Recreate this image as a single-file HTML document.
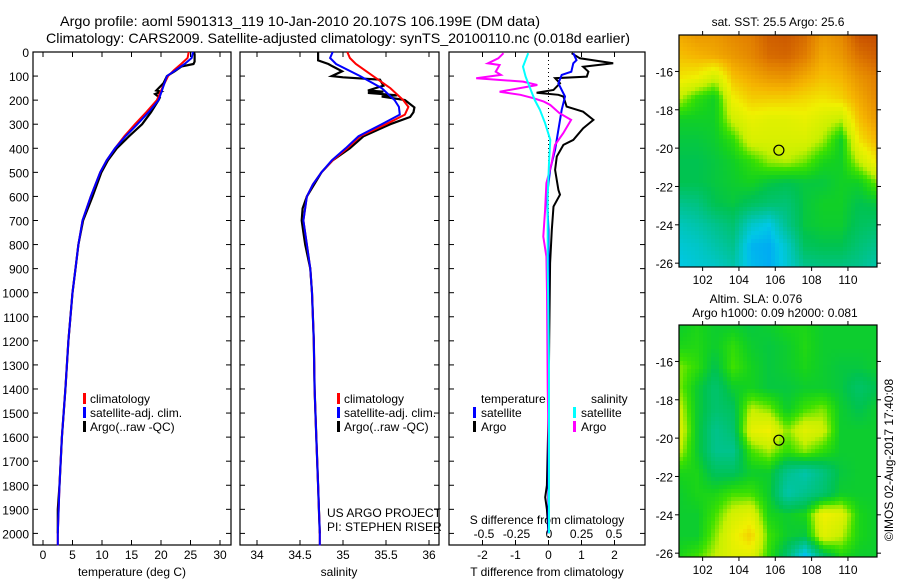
<!DOCTYPE html>
<html><head><meta charset="utf-8">
<style>
html,body{margin:0;padding:0;background:#fff;}
svg{display:block;font-family:"Liberation Sans",sans-serif;}
text{fill:#000;}
</style></head>
<body>
<svg id="fig" width="900" height="580" viewBox="0 0 900 580" xmlns="http://www.w3.org/2000/svg">
<rect x="0" y="0" width="900" height="580" fill="#fff"/>
<text x="60" y="26" font-size="14" textLength="480" lengthAdjust="spacingAndGlyphs">Argo profile: aoml 5901313_119 10-Jan-2010 20.107S 106.199E (DM data)</text>
<text x="46" y="43" font-size="14" textLength="584" lengthAdjust="spacingAndGlyphs">Climatology: CARS2009. Satellite-adjusted climatology: synTS_20100110.nc (0.018d earlier)</text>
<g id="plots"></g>
</svg>
<script>
// ---------- data ----------
const climDepth=[0,25,50,75,100,150,200,250,300,350,400,450,500,600,700,800,900,1000,1200,1400,1600,1800,2000,2050];
const climTemp=[24.7,24.5,23.4,22.2,21.2,20.2,19.3,17.5,15.6,13.8,12.2,10.8,9.7,8.1,6.7,6.0,5.5,5.0,4.3,3.8,3.2,2.8,2.5,2.5];
const satTemp=[25.4,25.2,24.0,22.5,21.0,20.3,19.6,17.9,16.0,14.0,12.2,10.8,9.7,8.1,6.7,6.0,5.5,5.0,4.3,3.8,3.2,2.8,2.5,2.5];
const argoTDepth=[0,10,40,50,60,80,100,130,160,165,175,190,200,250,300,350,400,450,500,600,700,800,900,1000,1200,1400,1600,1800,1900,2000];
const argoTemp=[25.6,25.7,25.7,25.5,23.5,22.3,21.0,20.4,19.2,20.0,19.0,19.8,19.6,18.3,16.8,14.6,12.5,11.0,9.9,8.4,6.8,6.0,5.5,5.0,4.3,3.8,3.2,2.8,2.5,2.5];

const salDepth=[0,25,50,100,150,200,228,260,300,350,400,450,500,550,600,700,800,900,1000,1200,1400,1600,1800,2000,2050];
const climSal=[35.05,35.08,35.15,35.35,35.55,35.7,35.76,35.72,35.5,35.2,35.05,34.88,34.75,34.65,34.58,34.54,34.58,34.62,34.64,34.66,34.67,34.69,34.71,34.73,34.73];
const satSal=[34.88,34.85,34.92,35.2,35.45,35.6,35.65,35.66,35.45,35.18,35.03,34.87,34.75,34.65,34.58,34.54,34.58,34.62,34.64,34.66,34.67,34.69,34.71,34.73,34.73];
const argoSDepth=[0,30,35,50,60,80,100,105,115,140,160,165,170,180,185,200,230,250,270,300,350,400,450,500,600,650,700,750,800,900,1000,1200,1400,1600,1800,1900,2000];
const argoSal=[34.71,34.71,34.71,34.83,34.88,34.99,34.87,35.0,35.43,35.47,35.29,35.47,35.29,35.63,35.45,35.72,35.83,35.82,35.78,35.55,35.24,35.08,34.88,34.75,34.58,34.53,34.52,34.54,34.56,34.62,34.64,34.66,34.67,34.69,34.71,34.72,34.73];

const dTArgoDepth=[5,26,47,61,82,102,109,130,158,169,178,185,227,248,282,317,365,386,434,490,573,593,642,739,877,1200,1500,1800,1850,1900,2000];
const dTArgo=[0.70,0.95,1.96,1.05,1.21,1.16,0.2,0.35,0.15,-0.36,0.3,0.45,0.55,1.05,1.36,1.05,0.75,0.45,0.25,0.2,0.3,0.35,0.15,0.1,0.05,0.02,0.0,-0.05,-0.1,-0.05,0.0];
const dTSatDepth=[5,34,47,82,95,130,158,185,240,323,406,490,600,739,877,1200,1600,2000];
const dTSat=[0.75,0.85,0.75,0.69,0.4,0.3,0.4,0.5,0.4,0.3,0.2,0.05,-0.05,0,0,0,0,0];
const dSArgoDepth=[5,26,47,54,82,95,109,123,137,165,178,192,206,220,254,282,337,386,462,545,656,767,850,1000,1400,1700,2000];
const dSArgo=[-0.35,-0.39,-0.47,-0.38,-0.41,-0.37,-0.56,-0.2,-0.09,-0.38,-0.22,-0.12,-0.04,0.01,0.08,0.17,0.11,0.046,0.02,-0.02,-0.03,-0.044,-0.02,-0.015,-0.01,0,0];
const dSSatDepth=[5,61,102,158,199,240,296,365,462,600,877,1300,2000];
const dSSat=[-0.16,-0.2,-0.18,-0.14,-0.11,-0.07,-0.03,0.01,0,-0.01,-0.01,0,0];

const depthTicks=[0,100,200,300,400,500,600,700,800,900,1000,1100,1200,1300,1400,1500,1600,1700,1800,1900,2000];
const tempTicks=[0,5,10,15,20,25,30];
const salTicks=[34,34.5,35,35.5,36];
const salTickLabels=["34","34.5","35","35.5","36"];
const tdTicks=[-2,-1,0,1,2];
const sdTicks=[-0.5,-0.25,0,0.25,0.5];
const sdTickLabels=["-0.5","-0.25","0","0.25","0.5"];
const lonTicks=[102,104,106,108,110];
const latTicks=[-16,-18,-20,-22,-24,-26];

const sstGrid=[
[0.82,0.85,0.85,0.88,0.9,0.95,0.96,0.93,0.85,0.88,0.97,0.98],
[0.78,0.8,0.82,0.85,0.88,0.93,0.94,0.9,0.82,0.85,0.92,0.95],
[0.72,0.7,0.62,0.78,0.82,0.85,0.86,0.82,0.78,0.8,0.86,0.9],
[0.6,0.5,0.45,0.7,0.76,0.76,0.76,0.74,0.72,0.75,0.82,0.88],
[0.45,0.45,0.45,0.62,0.68,0.66,0.66,0.68,0.64,0.6,0.78,0.85],
[0.42,0.42,0.44,0.5,0.64,0.64,0.64,0.64,0.58,0.45,0.72,0.8],
[0.4,0.4,0.42,0.45,0.5,0.57,0.59,0.55,0.47,0.45,0.6,0.72],
[0.4,0.4,0.42,0.44,0.46,0.42,0.4,0.42,0.42,0.45,0.45,0.55],
[0.3,0.32,0.4,0.42,0.38,0.35,0.34,0.42,0.45,0.45,0.4,0.42],
[0.22,0.25,0.3,0.35,0.2,0.15,0.3,0.42,0.44,0.44,0.38,0.36],
[0.18,0.2,0.25,0.3,0.1,0.08,0.2,0.38,0.4,0.4,0.34,0.3],
[0.15,0.18,0.2,0.25,0.12,0.08,0.18,0.3,0.32,0.32,0.3,0.25]];
const slaGrid=[
[0.44,0.47,0.44,0.44,0.42,0.44,0.47,0.47,0.44,0.44,0.44,0.44],
[0.47,0.48,0.44,0.5,0.44,0.42,0.44,0.48,0.44,0.44,0.44,0.44],
[0.56,0.5,0.4,0.52,0.46,0.42,0.44,0.47,0.44,0.42,0.42,0.44],
[0.56,0.44,0.35,0.44,0.46,0.42,0.42,0.44,0.44,0.42,0.36,0.4],
[0.62,0.44,0.35,0.38,0.6,0.56,0.44,0.52,0.56,0.44,0.4,0.44],
[0.66,0.44,0.3,0.35,0.67,0.7,0.56,0.66,0.62,0.44,0.44,0.44],
[0.6,0.44,0.3,0.3,0.52,0.58,0.5,0.56,0.5,0.44,0.44,0.44],
[0.47,0.47,0.38,0.38,0.44,0.44,0.3,0.25,0.32,0.42,0.44,0.44],
[0.44,0.47,0.47,0.52,0.52,0.44,0.25,0.3,0.35,0.44,0.44,0.44],
[0.44,0.44,0.52,0.63,0.67,0.47,0.44,0.47,0.7,0.66,0.47,0.44],
[0.44,0.44,0.56,0.68,0.76,0.52,0.44,0.42,0.66,0.6,0.47,0.44],
[0.47,0.52,0.6,0.66,0.66,0.5,0.35,0.1,0.35,0.47,0.44,0.44]];
const argoLon=106.199, argoLat=-20.107;

// ---------- helpers ----------
const NS="http://www.w3.org/2000/svg";
const root=document.getElementById('plots');
function mk(tag,attrs,parent){const e=document.createElementNS(NS,tag);for(const k in attrs)e.setAttribute(k,attrs[k]);(parent||root).appendChild(e);return e;}
function txt(s,x,y,anchor,size,parent){const t=mk('text',{x:x,y:y,'text-anchor':anchor||'start','font-size':size||12},parent);t.textContent=s;return t;}

const top0=52, bot=545;
const yD=d=>top0+d*0.2407;
const xT=t=>43+t*5.9;
const xS=s=>257+(s-34)*86;
const xdT=v=>548.5+v*33;
const xdS=v=>549+v*130;

function panel(x0,x1,name){
  const g=mk('g',{});
  
  
  const r=mk('rect',{x:x0,y:top0,width:x1-x0,height:bot-top0,fill:'none',stroke:'#000','stroke-width':1.2},g);
  
  
  return g;
}
function line(g,xs,ds,fx,color,name,w){
  const p=xs.map((v,i)=>fx(v).toFixed(1)+','+yD(ds[i]).toFixed(1)).join(' ');
  const l=mk('polyline',{points:p,fill:'none',stroke:color,'stroke-width':w||2,'stroke-linejoin':'miter'},g);
  
  
}
function xticks(g,ticks,labels,fx,ly,name,tickTop,tickBot){
  ticks.forEach((t,i)=>{
    const x=fx(t);
    if(tickBot) mk('line',{x1:x,y1:bot,x2:x,y2:bot-5,stroke:'#000'},g);
    if(tickTop) mk('line',{x1:x,y1:top0,x2:x,y2:top0+5,stroke:'#000'},g);
    if(labels){const tl=txt(labels[i],x,ly,'middle',12,g);
      
      }
  });
}
function legendMark(g,x,y,color){mk('rect',{x:x,y:y-10,width:3,height:11,fill:color},g);}

// ---------- panel 1: temperature ----------
const p1=panel(33,231,'temperature-panel');
depthTicks.forEach(d=>{
  mk('line',{x1:33,y1:yD(d),x2:38,y2:yD(d),stroke:'#000'},p1);
  mk('line',{x1:231,y1:yD(d),x2:226,y2:yD(d),stroke:'#000'},p1);
  const tl=txt(String(d),29,yD(d)+5,'end',12,p1);
  
  
});
xticks(p1,tempTicks,tempTicks.map(String),xT,559,'temperature',true,true);
const xl1=txt('temperature (deg C)',132,576,'middle',12,p1);


line(p1,argoTemp,argoTDepth,xT,'#000','argo-temperature-line',2.2);
line(p1,climTemp,climDepth,xT,'#f00','climatology-temperature-line',2);
line(p1,satTemp,climDepth,xT,'#00f','satellite-temperature-line',2);
[['climatology','#f00'],['satellite-adj. clim.','#00f'],['Argo(..raw -QC)','#000']].forEach((e,i)=>{
  const y=403+i*14; legendMark(p1,83,y,e[1]);
  const t=txt(e[0],90,y,'start',12,p1);
  
  
});

// ---------- panel 2: salinity ----------
const p2=panel(240,439,'salinity-panel');
depthTicks.forEach(d=>{
  mk('line',{x1:240,y1:yD(d),x2:245,y2:yD(d),stroke:'#000'},p2);
  mk('line',{x1:439,y1:yD(d),x2:434,y2:yD(d),stroke:'#000'},p2);
});
xticks(p2,salTicks,salTickLabels,xS,559,'salinity',true,true);
const xl2=txt('salinity',339,576,'middle',12,p2);


line(p2,argoSal,argoSDepth,xS,'#000','argo-salinity-line',2.2);
line(p2,climSal,salDepth,xS,'#f00','climatology-salinity-line',2);
line(p2,satSal,salDepth,xS,'#00f','satellite-salinity-line',2);
[['climatology','#f00'],['satellite-adj. clim.','#00f'],['Argo(..raw -QC)','#000']].forEach((e,i)=>{
  const y=403+i*14; legendMark(p2,337,y,e[1]);
  const t=txt(e[0],344,y,'start',12,p2);
  
  
});
const c1=txt('US ARGO PROJECT',327,517,'start',12,p2);


const c2=txt('PI: STEPHEN RISER',327,531,'start',12,p2);



// ---------- panel 3: differences ----------
const p3=panel(449,645,'difference-panel');
depthTicks.forEach(d=>{
  mk('line',{x1:449,y1:yD(d),x2:454,y2:yD(d),stroke:'#000'},p3);
  mk('line',{x1:645,y1:yD(d),x2:640,y2:yD(d),stroke:'#000'},p3);
});
xticks(p3,tdTicks,tdTicks.map(String),xdT,559,'t-difference',true,true);
xticks(p3,sdTicks,sdTickLabels,xdS,538,'s-difference',false,false);
mk('line',{x1:xdT(0),y1:top0,x2:xdT(0),y2:bot,stroke:'#000','stroke-dasharray':'1,3'},p3);
const xl3=txt('T difference from climatology',547,576,'middle',12,p3);


const xl3b=txt('S difference from climatology',547,524,'middle',12,p3);


line(p3,dTArgo,dTArgoDepth,xdT,'#000','argo-t-difference-line',2);
line(p3,dTSat,dTSatDepth,xdT,'#00f','satellite-t-difference-line',2);
line(p3,dSArgo,dSArgoDepth,xdS,'#f0f','argo-s-difference-line',2);
line(p3,dSSat,dSSatDepth,xdS,'#0ff','satellite-s-difference-line',2);
const lt=txt('temperature',481,403,'start',12,p3);


const ls=txt('salinity',591,403,'start',12,p3);


[['satellite','#00f',473],['Argo','#000',473],['satellite','#0ff',573],['Argo','#f0f',573]].forEach((e,i)=>{
  const y=417+(i%2)*14; legendMark(p3,e[2],y,e[1]);
  const t=txt(e[0],e[2]+8,y,'start',12,p3);
  
  
});

// ---------- maps ----------
const cmapStops=[[0,[0,140,255]],[0.15,[0,200,230]],[0.3,[0,195,140]],[0.4,[0,195,80]],[0.46,[20,210,30]],[0.52,[60,225,0]],[0.6,[200,240,0]],[0.7,[240,240,0]],[0.8,[245,180,0]],[0.9,[225,125,0]],[1,[190,65,0]]];
function cmap(v){
  v=Math.max(0,Math.min(1,v));
  for(let i=1;i<cmapStops.length;i++){
    if(v<=cmapStops[i][0]){const a=cmapStops[i-1],b=cmapStops[i];const f=(v-a[0])/(b[0]-a[0]);
      const c=a[1].map((q,k)=>Math.round(q+(b[1][k]-q)*f));return 'rgb('+c.join(',')+')';}
  }
  return 'rgb(190,65,0)';
}
function drawMap(grid,x0,y0,name){
  const W=198,H=232,lon0=100.7,lon1=111.6,lat0=-14.1,lat1=-26.2;
  const fx=lon=>x0+(lon-lon0)/(lon1-lon0)*W;
  const fy=lat=>y0+(lat-lat0)/(lat1-lat0)*H;
  const g=mk('g',{});
  
  
  const R=grid.length,C=grid[0].length,cs=4;
  for(let py=0;py<H;py+=cs){for(let px=0;px<W;px+=cs){
    const gx=Math.min(C-1.001,(px+cs/2)/W*(C-1)),gy=Math.min(R-1.001,(py+cs/2)/H*(R-1));
    const i=Math.floor(gy),j=Math.floor(gx),fy2=gy-i,fx2=gx-j;
    const v=grid[i][j]*(1-fx2)*(1-fy2)+grid[i][j+1]*fx2*(1-fy2)+grid[i+1][j]*(1-fx2)*fy2+grid[i+1][j+1]*fx2*fy2;
    mk('rect',{x:x0+px,y:y0+py,width:Math.min(cs,W-px)+0.3,height:Math.min(cs,H-py)+0.3,fill:cmap(v)},g);
  }}
  const fr=mk('rect',{x:x0,y:y0,width:W,height:H,fill:'none',stroke:'#000','stroke-width':1.2},g);
  
  
  lonTicks.forEach(l=>{const x=fx(l);
    mk('line',{x1:x,y1:y0,x2:x,y2:y0-4,stroke:'#000'},g);
    mk('line',{x1:x,y1:y0+H,x2:x,y2:y0+H+4,stroke:'#000'},g);
    const t=txt(String(l),x,y0+H+17,'middle',12,g);
    
    });
  latTicks.forEach(l=>{const y=fy(l);
    mk('line',{x1:x0,y1:y,x2:x0-4,y2:y,stroke:'#000'},g);
    mk('line',{x1:x0+W,y1:y,x2:x0+W+4,y2:y,stroke:'#000'},g);
    const t=txt(String(l),x0-6,y+5,'end',12,g);
    
    });
  const m=mk('circle',{cx:fx(argoLon),cy:fy(argoLat),r:5,fill:'none',stroke:'#000','stroke-width':1.2},g);
  
  
}
drawMap(sstGrid,679,35,'sst-map');
drawMap(slaGrid,679,325,'sla-map');
const mt1=txt('sat. SST: 25.5 Argo: 25.6',778,26,'middle',12);


const mt2=txt('Altim. SLA: 0.076',756,303,'middle',12);


const mt3=txt('Argo h1000: 0.09 h2000: 0.081',775,317,'middle',12);


const cr=txt('©IMOS 02-Aug-2017 17:40:08',0,0,'middle',12);
cr.setAttribute('transform','translate(893,460) rotate(-90)');


</script>
</body></html>
